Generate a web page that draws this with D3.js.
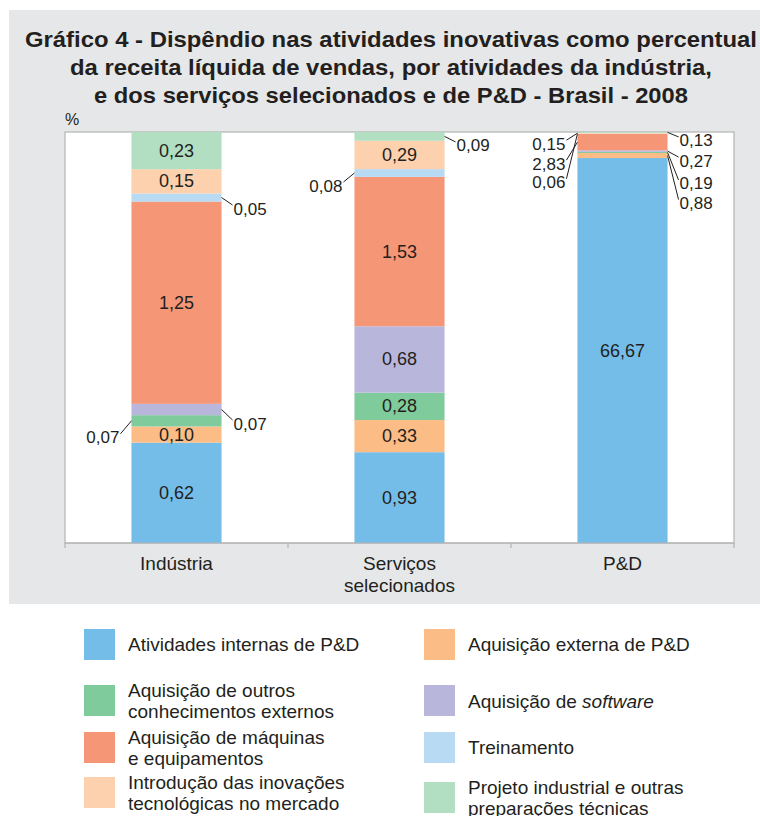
<!DOCTYPE html>
<html>
<head>
<meta charset="utf-8">
<script src="https://cdn.jsdelivr.net/npm/d3@7"></script>
<style>
  body { margin: 0; background: #fff; }
  svg text { font-family: "Liberation Sans", Arial, sans-serif; fill: #231f20; }
</style>
</head>
<body>
<svg id="chart" width="760" height="816"></svg>
<script>
// data (percent of net sales revenue)
const categories = ["Indústria", "Serviços selecionados", "P&D"]
const categoryLines = [["Indústria"], ["Serviços", "selecionados"], ["P&D"]]

const seriesKeys = ["interna", "externa", "outros", "software", "maquinas", "treinamento", "introducao", "projeto"]
const seriesColors = ["#74bde8", "#fbbd85", "#80cb9c", "#b9b6dc", "#f59677", "#b8daf2", "#fdd0ae", "#b2dfc2"]

const interna     = [0.62, 0.93, 66.67]
const externa     = [0.10, 0.33, 0.88]
const outros      = [0.07, 0.28, 0.19]
const software    = [0.07, 0.68, 0.27]
const maquinas    = [1.25, 1.53, 2.83]
const treinamento = [0.05, 0.08, 0.06]
const introducao  = [0.15, 0.29, 0.15]
const projeto     = [0.23, 0.09, 0.13]

const titleLines = [
  "Gráfico 4 - Dispêndio nas atividades inovativas como percentual",
  "da receita líquida de vendas, por atividades da indústria,",
  "e dos serviços selecionados e de P&D - Brasil - 2008"
]

// small segments get their label outside with a leader line
const outsideLabels = [
  { cat: 0, key: "outros", side: "left", dy: 17 },
  { cat: 0, key: "software", side: "right", dy: 14.5 },
  { cat: 0, key: "treinamento", side: "right", dy: 11.5 },
  { cat: 1, key: "treinamento", side: "left", dy: 13 },
  { cat: 1, key: "projeto", side: "right", dy: 9.5 },
  { cat: 2, key: "projeto", side: "right", dy: 8.5 },
  { cat: 2, key: "software", side: "right", dy: 10 },
  { cat: 2, key: "outros", side: "right", dy: 31.5 },
  { cat: 2, key: "externa", side: "right", dy: 48 },
  { cat: 2, key: "introducao", side: "left", dy: 11 },
  { cat: 2, key: "maquinas", side: "left", dy: 22 },
  { cat: 2, key: "treinamento", side: "left", dy: 49 }
]

const legendItems = [
  { key: "interna", col: 0, row: 0, lines: ["Atividades internas de P&D"] },
  { key: "outros", col: 0, row: 1, lines: ["Aquisição de outros", "conhecimentos externos"] },
  { key: "maquinas", col: 0, row: 2, lines: ["Aquisição de máquinas", "e equipamentos"] },
  { key: "introducao", col: 0, row: 3, lines: ["Introdução das inovações", "tecnológicas no mercado"] },
  { key: "externa", col: 1, row: 0, lines: ["Aquisição externa de P&D"] },
  { key: "software", col: 1, row: 1, lines: ["Aquisição de ", "software"] },
  { key: "treinamento", col: 1, row: 2, lines: ["Treinamento"] },
  { key: "projeto", col: 1, row: 3, lines: ["Projeto industrial e outras", "preparações técnicas"] }
]

const seriesValues = { interna, externa, outros, software, maquinas, treinamento, introducao, projeto }
const table = categories.map((c, i) => {
  const row = { category: c }
  seriesKeys.forEach(k => row[k] = seriesValues[k][i])
  return row
})

const svg = d3.select("#chart")
const margin = { top: 132, right: 26, bottom: 273, left: 65 }
const width = 760 - margin.left - margin.right
const height = 816 - margin.top - margin.bottom

// grey panel
svg.append("rect").attr("x", 9).attr("y", 10).attr("width", 751).attr("height", 594).attr("fill", "#e6e7e8")

titleLines.forEach((t, i) => {
  const lens = [732, 642, 594]
  svg.append("text")
    .attr("x", 391 - lens[i] / 2)
    .attr("y", 47 + i * 28)
    .attr("textLength", lens[i])
    .attr("lengthAdjust", "spacingAndGlyphs")
    .style("font-size", "22px")
    .style("font-weight", "bold")
    .text(t)
})

svg.append("text").attr("x", 65).attr("y", 125).style("font-size", "16px").text("%")

const g = svg.append("g").attr("transform", `translate(${margin.left},${margin.top})`)

g.append("rect").attr("width", width).attr("height", height)
  .attr("fill", "#fff").attr("stroke", "#b3b3b3").attr("stroke-width", 1.2)

const x = d3.scaleBand().domain(categories).range([0, width]).padding(0)
const y = d3.scaleLinear().domain([0, 1]).range([height, 0])
const color = d3.scaleOrdinal().domain(seriesKeys).range(seriesColors)
const barW = x.bandwidth() * 0.404
const barX = c => x(c) + (x.bandwidth() - barW) / 2

const stacked = d3.stack().keys(seriesKeys).offset(d3.stackOffsetExpand)(table)

g.selectAll("g.layer")
  .data(stacked)
  .join("g")
  .attr("class", "layer")
  .attr("fill", d => color(d.key))
  .selectAll("rect")
  .data(d => d)
  .join("rect")
  .attr("x", d => barX(d.data.category))
  .attr("y", d => y(d[1]))
  .attr("width", barW)
  .attr("height", d => y(d[0]) - y(d[1]))

const fmt = v => d3.format(".2f")(v).replace(".", ",")
const isOutside = (ci, key) => outsideLabels.some(o => o.cat === ci && o.key === key)

// labels inside the bars
stacked.forEach(layer => {
  layer.forEach((d, ci) => {
    if (isOutside(ci, layer.key)) return
    g.append("text")
      .attr("x", barX(d.data.category) + barW / 2)
      .attr("y", (y(d[0]) + y(d[1])) / 2)
      .attr("text-anchor", "middle")
      .attr("dominant-baseline", "central")
      .style("font-size", "18px")
      .text(fmt(d.data[layer.key]))
  })
})

// labels outside with leader lines
outsideLabels.forEach(o => {
  const layer = stacked.find(l => l.key === o.key)
  const d = layer[o.cat]
  const ay = (y(d[0]) + y(d[1])) / 2
  const edge = o.side === "left" ? barX(d.data.category) : barX(d.data.category) + barW
  const s = o.side === "left" ? -1 : 1
  const ly = ay + o.dy
  g.append("line")
    .attr("x1", edge).attr("y1", ay)
    .attr("x2", edge + s * 11).attr("y2", ly - 4)
    .attr("stroke", "#231f20").attr("stroke-width", 1)
  g.append("text")
    .attr("x", edge + s * 12)
    .attr("y", ly)
    .attr("text-anchor", o.side === "left" ? "end" : "start")
    .attr("dominant-baseline", "central")
    .style("font-size", "17px")
    .text(fmt(d.data[o.key]))
})

// x axis: line, ticks at band boundaries, labels at band centres
const axis = g.append("g").attr("transform", `translate(0,${height})`)
axis.append("line").attr("x1", 0).attr("x2", width).attr("stroke", "#b3b3b3").attr("stroke-width", 1.2)
const bounds = categories.map(c => x(c)).concat([width])
axis.selectAll("line.tick").data(bounds).join("line")
  .attr("class", "tick")
  .attr("x1", d => d).attr("x2", d => d)
  .attr("y1", 0).attr("y2", 5)
  .attr("stroke", "#b3b3b3").attr("stroke-width", 1.2)
categories.forEach((c, i) => {
  categoryLines[i].forEach((line, j) => {
    axis.append("text")
      .attr("x", x(c) + x.bandwidth() / 2)
      .attr("y", 20 + j * 22)
      .attr("text-anchor", "middle")
      .attr("dominant-baseline", "central")
      .style("font-size", "19px")
      .text(line)
  })
})

// legend
const colX = [84, 424]
const rowY = [[629, 685, 732, 777], [629, 685, 732, 782]]
const legend = svg.append("g")
legendItems.forEach(item => {
  const sx = colX[item.col]
  const sy = rowY[item.col][item.row]
  legend.append("rect").attr("x", sx).attr("y", sy).attr("width", 31).attr("height", 31).attr("fill", color(item.key))
  const tx = sx + 44
  if (item.key === "software") {
    const t = legend.append("text").attr("x", tx).attr("y", sy + 15.5)
      .attr("dominant-baseline", "central").style("font-size", "19px")
    t.append("tspan").text(item.lines[0])
    t.append("tspan").style("font-style", "italic").text(item.lines[1])
    return
  }
  const n = item.lines.length
  item.lines.forEach((line, j) => {
    legend.append("text")
      .attr("x", tx)
      .attr("y", sy + 15.5 + (j - (n - 1) / 2) * 21)
      .attr("dominant-baseline", "central")
      .style("font-size", "19px")
      .text(line)
  })
})
</script>
</body>
</html>
